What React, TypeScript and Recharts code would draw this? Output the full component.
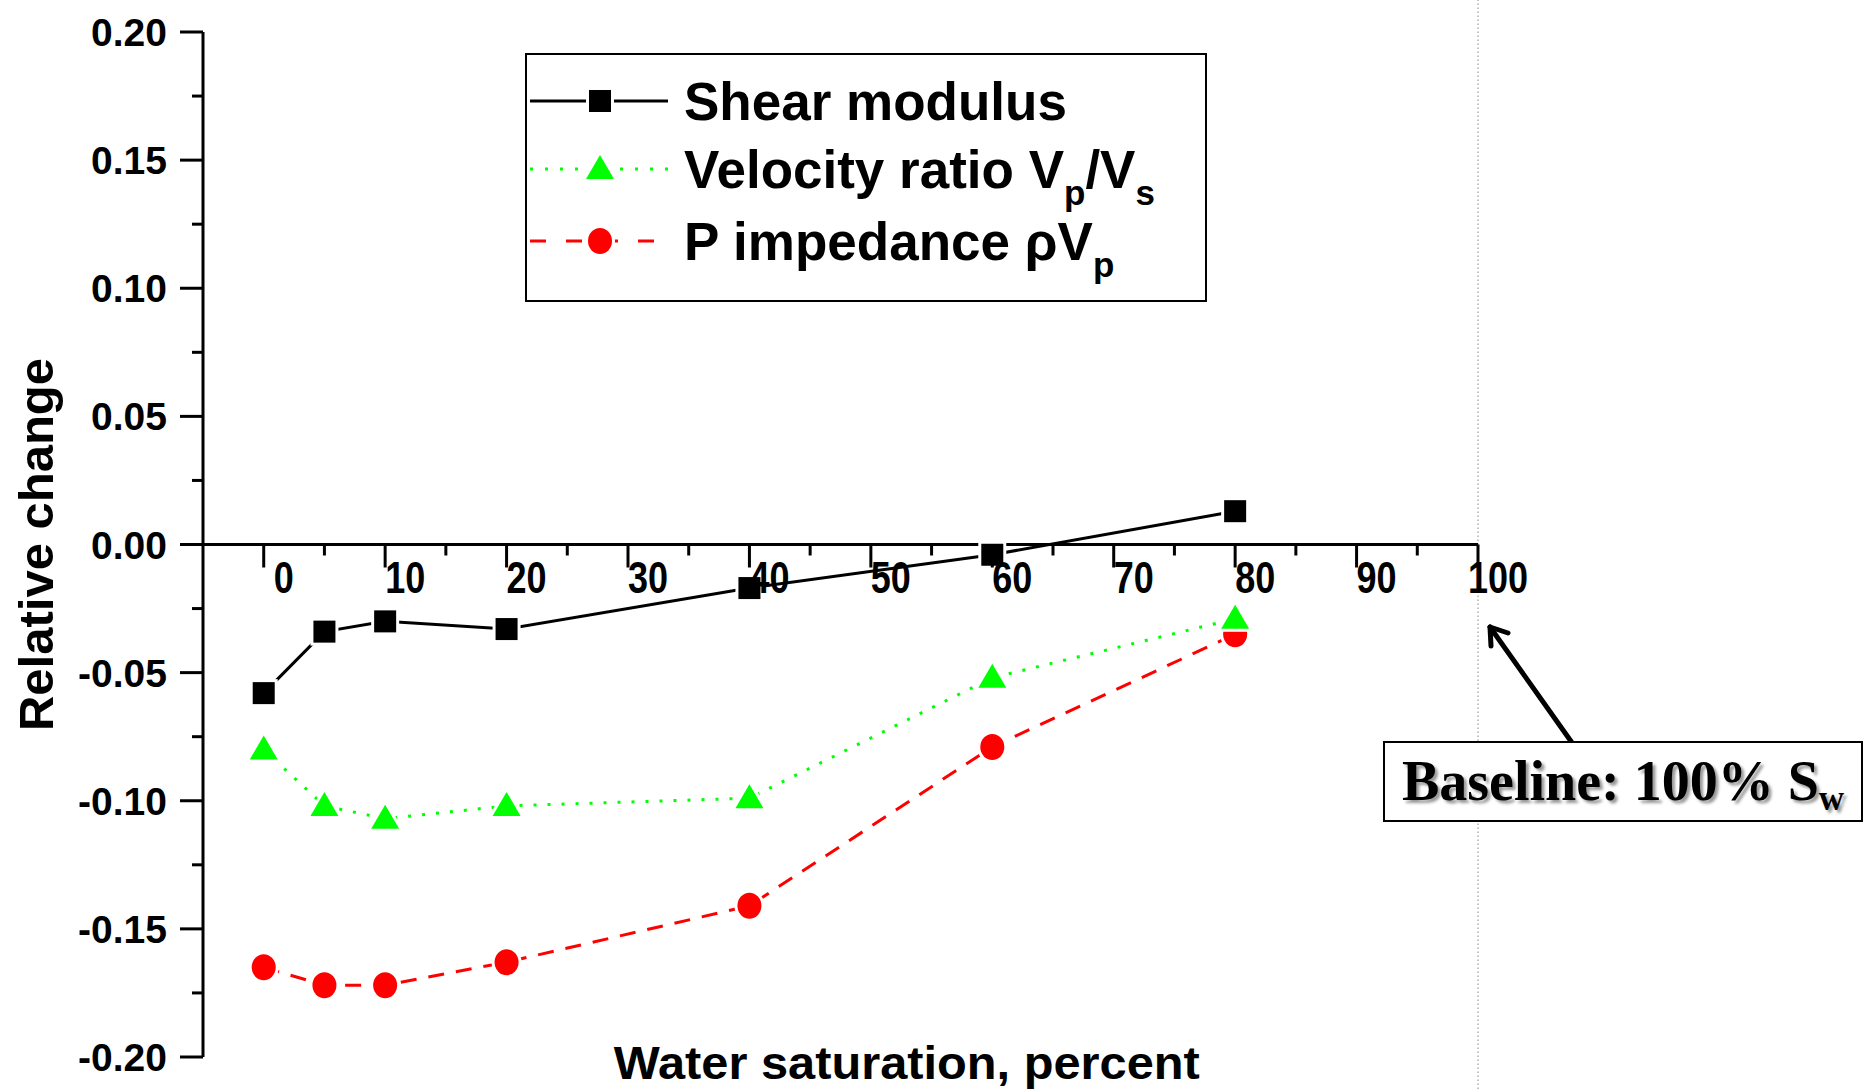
import React from "react";
import { LineChart, Line, XAxis, YAxis, ReferenceLine, Legend } from "recharts";

// water saturation (percent) of each measurement
const saturation = [0, 5, 10, 20, 40, 60, 80];
// relative change against the 100% Sw baseline
const shearModulus = [-0.058, -0.034, -0.03, -0.033, -0.017, -0.004, 0.013];
const velocityRatio = [-0.08, -0.102, -0.107, -0.102, -0.099, -0.052, -0.029];
const pImpedance = [-0.165, -0.172, -0.172, -0.163, -0.141, -0.079, -0.035];

const xTicks = [0, 5, 10, 15, 20, 25, 30, 35, 40, 45, 50, 55, 60, 65, 70, 75, 80, 85, 90, 95, 100];
const yTicks = [
  -0.2, -0.175, -0.15, -0.125, -0.1, -0.075, -0.05, -0.025, 0, 0.025, 0.05, 0.075, 0.1, 0.125, 0.15,
  0.175, 0.2,
];

const rows = saturation.map((sw, i) => ({
  sw,
  shear: shearModulus[i],
  ratio: velocityRatio[i],
  imp: pImpedance[i],
}));

const W = 1869;
const H = 1091;
const MARGIN = { top: 32, right: 391, bottom: 33, left: 0 };
const X_AXIS_H = 1;
const PLOT_H = H - MARGIN.top - MARGIN.bottom - X_AXIS_H;

const SANS = "'Liberation Sans', Arial, sans-serif";
// no narrow face installed, so condensed text is squeezed horizontally
const NARROW_SCALE = 0.8;

const GREEN = "#00ff00";
const RED = "#ff0000";

const square = (cx: number, cy: number, k?: string) => (
  <rect key={k} x={cx - 11} y={cy - 11} width={22} height={22} fill="#000" stroke="#fff" strokeWidth={6} paintOrder="stroke" />
);
const triangle = (cx: number, cy: number, k?: string) => (
  <polygon
    key={k}
    points={`${cx},${cy - 14} ${cx + 14},${cy + 10} ${cx - 14},${cy + 10}`}
    fill={GREEN}
    stroke="#fff"
    strokeWidth={6}
    paintOrder="stroke"
  />
);
const circle = (cx: number, cy: number, k?: string) => (
  <ellipse key={k} cx={cx} cy={cy} rx={12} ry={13} fill={RED} stroke="#fff" strokeWidth={6} paintOrder="stroke" />
);

const XTick = (props: any) => {
  const { x, y, payload } = props;
  const v = payload.value;
  const major = v % 10 === 0;
  const y0 = y - PLOT_H / 2;
  return (
    <g>
      <line x1={x} x2={x} y1={y0} y2={y0 + (major ? 23 : 11)} stroke="#000" strokeWidth={3} />
      {major && (
        <text
          transform={`translate(${x + 20}, ${y0 + 48}) scale(${NARROW_SCALE}, 1)`}
          textAnchor="middle"
          fontFamily={SANS}
          fontWeight="bold"
          fontSize={45}
          fill="#000"
        >
          {v}
        </text>
      )}
    </g>
  );
};

const YTick = (props: any) => {
  const { x, y, payload } = props;
  const v = payload.value;
  const major = Math.abs(Math.round(v * 1000)) % 50 === 0;
  return (
    <g>
      <line x1={x} x2={x - (major ? 23 : 11)} y1={y} y2={y} stroke="#000" strokeWidth={3} />
      {major && (
        <text x={x - 36} y={y} dy="0.36em" textAnchor="end" fontFamily={SANS} fontWeight="bold" fontSize={39} fill="#000">
          {v.toFixed(2)}
        </text>
      )}
    </g>
  );
};

const renderLegend = () => (
  <svg width={682} height={249} style={{ display: "block" }}>
    <rect x={1} y={1} width={680} height={247} fill="#fff" stroke="#000" strokeWidth={2} />
    <g fontFamily={SANS} fontWeight="bold" fill="#000">
      <line x1={5} x2={143} y1={48} y2={48} stroke="#000" strokeWidth={3} />
      {square(75, 48)}
      <text x={159} y={48} dy="0.36em" fontSize={53}>
        Shear modulus
      </text>

      <line x1={5} x2={143} y1={116} y2={116} stroke={GREEN} strokeWidth={3} strokeDasharray="3 12" />
      {triangle(75, 116)}
      <text x={159} y={116} dy="0.36em" fontSize={53}>
        Velocity ratio V
        <tspan fontSize={35} dy={17}>p</tspan>
        <tspan dy={-17}>/V</tspan>
        <tspan fontSize={35} dy={17}>s</tspan>
      </text>

      <line x1={5} x2={143} y1={188} y2={188} stroke={RED} strokeWidth={3} strokeDasharray="16 20" />
      {circle(75, 188)}
      <text x={159} y={188} dy="0.36em" fontSize={53}>
        P impedance ρV
        <tspan fontSize={35} dy={17}>p</tspan>
      </text>
    </g>
  </svg>
);

export default function App() {
  return (
    <div style={{ position: "absolute", left: 0, top: 0, width: W, height: H, background: "#fff" }}>
      <LineChart width={W} height={H} data={rows} margin={MARGIN}>
        <XAxis
          type="number"
          dataKey="sw"
          domain={[-5, 100]}
          ticks={xTicks}
          height={X_AXIS_H}
          axisLine={false}
          tickLine={false}
          tickSize={0}
          tickMargin={0}
          tick={<XTick />}
          interval={0}
          label={{
            content: (p: any) => {
              const vb = p.viewBox || {};
              return (
                <text
                  x={vb.x + vb.width * 0.552}
                  y={vb.y + 22}
                  textAnchor="middle"
                  textLength={586}
                  lengthAdjust="spacingAndGlyphs"
                  fontFamily={SANS}
                  fontWeight="bold"
                  fontSize={47}
                  fill="#000"
                >
                  Water saturation, percent
                </text>
              );
            },
          }}
        />
        <YAxis
          type="number"
          domain={[-0.2, 0.2]}
          ticks={yTicks}
          width={203}
          axisLine={{ stroke: "#000", strokeWidth: 3 }}
          tickLine={false}
          tickSize={0}
          tickMargin={0}
          tick={<YTick />}
          interval={0}
          label={{
            content: (p: any) => {
              const vb = p.viewBox || {};
              const cy = vb.y + vb.height / 2;
              return (
                <text
                  x={36}
                  y={cy}
                  transform={`rotate(-90, 36, ${cy})`}
                  textAnchor="middle"
                  dominantBaseline="central"
                  fontFamily={SANS}
                  fontWeight="bold"
                  fontSize={49}
                  fill="#000"
                >
                  Relative change
                </text>
              );
            },
          }}
        />
        <ReferenceLine
          segment={[
            { x: 100, y: -0.214 },
            { x: 100, y: 0.213 },
          ]}
          ifOverflow="visible"
          stroke="#b0b0b0"
          strokeWidth={1.5}
          strokeDasharray="1.5 2.5"
        />
        <ReferenceLine y={0} stroke="#000" strokeWidth={3} />
        <Legend
          layout="horizontal"
          verticalAlign="middle"
          align="center"
          content={renderLegend}
          wrapperStyle={{ left: 525, top: 53, width: 682, height: 249 }}
        />
        <Line
          dataKey="imp"
          stroke={RED}
          strokeWidth={3}
          strokeDasharray="16 12"
          dot={(p: any) => circle(p.cx, p.cy, `c${p.index}`)}
          isAnimationActive={false}
        />
        <Line
          dataKey="ratio"
          stroke={GREEN}
          strokeWidth={3}
          strokeDasharray="3 11"
          dot={(p: any) => triangle(p.cx, p.cy, `t${p.index}`)}
          isAnimationActive={false}
        />
        <Line
          dataKey="shear"
          stroke="#000"
          strokeWidth={3}
          dot={(p: any) => square(p.cx, p.cy, `s${p.index}`)}
          isAnimationActive={false}
        />
      </LineChart>
      <svg width={W} height={H} style={{ position: "absolute", left: 0, top: 0, pointerEvents: "none" }}>
        <g stroke="#000" strokeWidth={5} fill="none" strokeLinecap="round">
          <line x1={1580} y1={754} x2={1490} y2={627} />
          <polyline points="1508,633 1490,627 1491,646" strokeLinejoin="round" />
        </g>
      </svg>
      <div
        style={{
          position: "absolute",
          left: 1383,
          top: 741,
          width: 476,
          height: 77,
          border: "2px solid #000",
          background: "#fff",
          boxSizing: "content-box",
          fontFamily: "'Liberation Serif', 'Times New Roman', serif",
          fontWeight: "bold",
          fontSize: 56,
          lineHeight: "77px",
          textAlign: "center",
          whiteSpace: "nowrap",
          textShadow: "3px 3px 3px #999",
        }}
      >
        Baseline: 100% S<sub style={{ fontSize: 35, verticalAlign: "-10px" }}>w</sub>
      </div>
    </div>
  );
}
